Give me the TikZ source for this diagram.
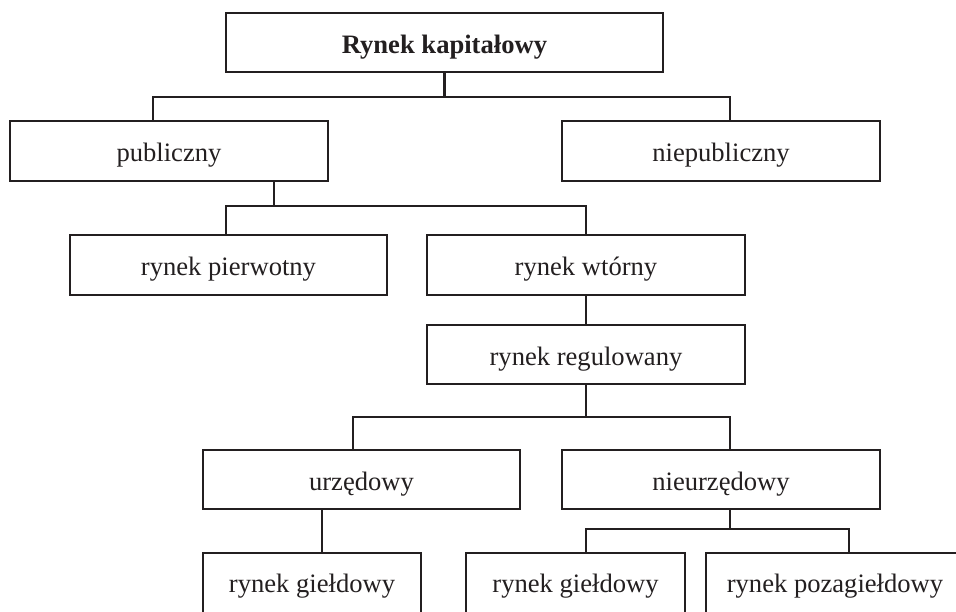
\documentclass[tikz,border=0pt]{standalone}
\usepackage{fontspec}
\setmainfont{Liberation Serif}
\definecolor{ink}{HTML}{231F20}
\begin{document}
\begin{tikzpicture}[x=1pt,y=-1pt,
  box/.style={draw=ink,line width=2.2pt,inner sep=0pt,text=ink,
    font=\fontsize{26.6}{30}\selectfont,text height=24pt,text depth=2pt},
  lowbox/.style={box,text height=18pt,text depth=2pt},
  link/.style={draw=ink,line width=2.2pt}]
\useasboundingbox (0,0) rectangle (956,612);
\clip (0,0) rectangle (956,612);
\fill[white] (0,0) rectangle (956,612);
\node[box,minimum width=437pt,minimum height=59pt] (top) at (444.5,42.5) {\textbf{Rynek kapitałowy}};
\node[box,minimum width=318pt,minimum height=60pt] (pub) at (169,151) {publiczny};
\node[box,minimum width=318pt,minimum height=60pt] (niep) at (721,151) {niepubliczny};
\node[box,minimum width=317pt,minimum height=60pt] (pier) at (228.5,265) {rynek pierwotny};
\node[box,minimum width=318pt,minimum height=60pt] (wt) at (586,265) {rynek wtórny};
\node[box,minimum width=318pt,minimum height=59pt] (reg) at (586,354.5) {rynek regulowany};
\node[box,minimum width=317pt,minimum height=59pt] (urz) at (361.5,479.5) {urzędowy};
\node[box,minimum width=318pt,minimum height=59pt] (nurz) at (721,479.5) {nieurzędowy};
\node[lowbox,minimum width=218pt,minimum height=62pt] (g1) at (312,584) {rynek giełdowy};
\node[lowbox,minimum width=219pt,minimum height=62pt] (g2) at (575.5,584) {rynek giełdowy};
\node[lowbox,minimum width=294pt,minimum height=62pt] (pg) at (853,584) {};
\node[text=ink,font=\fontsize{26.6}{30}\selectfont,anchor=base] (pgt) at (835,592) {rynek pozagiełdowy};
% level 1
\coordinate (j1) at (0,97);
\draw[link] (top.south) -- (top.south |- j1);
\draw[link] ([xshift=144pt]pub.north west) -- ([xshift=144pt]pub.north west |- j1)
  -- ([xshift=169pt]niep.north west |- j1) -- ([xshift=169pt]niep.north west);
% level 2
\coordinate (j2) at (0,206);
\draw[link] ([xshift=265pt]pub.south west) -- ([xshift=265pt]pub.south west |- j2);
\draw[link] ([xshift=157pt]pier.north west) -- ([xshift=157pt]pier.north west |- j2)
  -- (wt.north |- j2) -- (wt.north);
\draw[link] (wt.south) -- (reg.north);
% level 3
\coordinate (j3) at (0,417);
\draw[link] (reg.south) -- (reg.south |- j3);
\draw[link] ([xshift=151pt]urz.north west) -- ([xshift=151pt]urz.north west |- j3)
  -- ([xshift=169pt]nurz.north west |- j3) -- ([xshift=169pt]nurz.north west);
% level 4
\draw[link] ([xshift=120pt]urz.south west) -- ([xshift=120pt]urz.south west |- g1.north);
\coordinate (j4) at (0,529);
\draw[link] ([xshift=169pt]nurz.south west) -- ([xshift=169pt]nurz.south west |- j4);
\draw[link] ([xshift=121pt]g2.north west) -- ([xshift=121pt]g2.north west |- j4)
  -- ([xshift=144pt]pg.north west |- j4) -- ([xshift=144pt]pg.north west);
\end{tikzpicture}
\end{document}
